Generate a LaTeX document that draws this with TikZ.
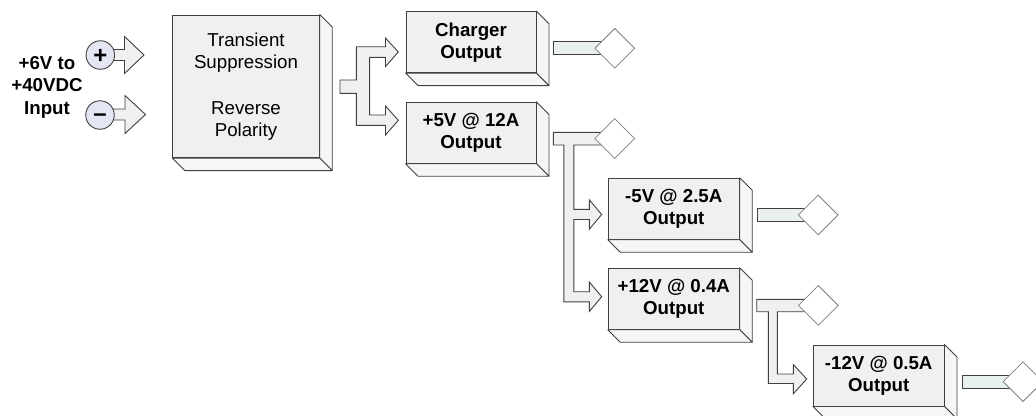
\documentclass[tikz,border=0pt]{standalone}
\usepackage{fontspec}
\setmainfont{Liberation Sans}
\usetikzlibrary{calc,shapes.geometric}
\definecolor{facec}{HTML}{F0F0F0}
\definecolor{sidec}{HTML}{F6F6F6}
\definecolor{edgec}{HTML}{404040}
\definecolor{connc}{HTML}{E9F0F0}
\definecolor{diac}{HTML}{808080}
\definecolor{circc}{HTML}{E4E6F4}
\tikzset{
 boxface/.style={draw=edgec, fill=facec, line width=0.9pt, inner sep=0pt, align=center, font=\fontsize{18.7}{22}\selectfont},
 sideface/.style={draw=edgec, fill=sidec, line width=0.9pt, line join=round},
 forkarrow/.style={draw=edgec, fill=facec, line width=0.9pt, line join=miter},
 outbar/.style={draw=edgec, fill=connc, line width=0.9pt},
 outdia/.style={draw=diac, fill=white, shape=diamond, minimum width=40pt, minimum height=40pt, inner sep=0pt, line width=0.8pt},
 pole/.style={circle, draw=edgec, fill=circc, minimum size=28.5pt, inner sep=0pt, line width=0.9pt},
 polesign/.style={anchor=base, inner sep=0pt, font=\bfseries\fontsize{24}{24}\selectfont},
 intext/.style={align=center, inner sep=0pt, font=\bfseries\fontsize{18.7}{22.5}\selectfont},
}
\newcommand\solidsides[1]{%
 \draw[sideface] (#1.north east) -- ++(12.5,12.5) -- ($(#1.south east)+(12.5,12.5)$) -- (#1.south east) -- cycle;
 \draw[sideface] (#1.south west) -- ++(12.5,12.5) -- ($(#1.south east)+(12.5,12.5)$) -- (#1.south east) -- cycle;
}
\begin{document}
\begin{tikzpicture}[x=1pt,y=-1pt]
\useasboundingbox (0,0) rectangle (1036,415);
\fill[white] (0,0) rectangle (1036,415);

% input
\node[intext] (inlabel) at (47,87) {+6V to\\+40VDC\\Input};
\draw[forkarrow] (105,49.5) -- (124.5,49.5) -- (124.5,36.5) -- (144,55) -- (124.5,73.5) -- (124.5,60.5) -- (105,60.5) -- cycle;
\draw[forkarrow] (105,109) -- (125,109) -- (125,95.5) -- (145.5,114.5) -- (125,133.5) -- (125,120) -- (105,120) -- cycle;
\node[pole] (pluscirc) at (100.3,55) {};
\node[pole] (minuscirc) at (100,115) {};
\node[polesign] (plussign) at ($(pluscirc.center)+(0,8.4)$) {+};
\node[polesign] (minussign) at ($(minuscirc.center)+(0,6.8)$) {\symbol{"2013}};

% main box
\node[boxface, minimum width=146.6pt, minimum height=142.7pt] (main) at (246,86.3)
 {Transient\\Suppression\\[24pt]Reverse\\Polarity};
\solidsides{main}

% output boxes
\node[boxface, font=\bfseries\fontsize{18.7}{22}\selectfont, minimum width=130pt, minimum height=61pt] (charger) at (471,42.2) {Charger\\Output};
\solidsides{charger}
\node[boxface, font=\bfseries\fontsize{18.7}{22}\selectfont, minimum width=130pt, minimum height=61pt] (five) at (471,132.8) {+5V @ 12A\\Output};
\solidsides{five}
\node[boxface, font=\bfseries\fontsize{18.7}{22}\selectfont, minimum width=131pt, minimum height=61pt] (mfive) at (673.8,208.8) {-5V @ 2.5A\\Output};
\solidsides{mfive}
\node[boxface, font=\bfseries\fontsize{18.7}{22}\selectfont, minimum width=131pt, minimum height=61pt] (ptwelve) at (673.8,298.8) {+12V @ 0.4A\\Output};
\solidsides{ptwelve}
\node[boxface, font=\bfseries\fontsize{18.7}{22}\selectfont, minimum width=130.7pt, minimum height=61pt] (mtwelve) at (878.7,375.5) {-12V @ 0.5A\\Output};
\solidsides{mtwelve}

% fork arrows
\draw[forkarrow] (340,80) -- (356.3,80) -- (356.3,46.7) -- (385.5,46.7) -- (385.5,38) -- (398.3,52) -- (385.5,66.5) -- (385.5,57.3) -- (369.6,57.3) -- (369.6,115) -- (385.5,115) -- (385.5,106) -- (398.3,120.3) -- (385.5,135) -- (385.5,125.3) -- (356.3,125.3) -- (356.3,93.3) -- (340,93.3) -- cycle;
\draw[forkarrow] (553.3,132.3) -- (605,132.3) -- (605,145) -- (573.8,145) -- (573.8,209.3) -- (589.3,209.3) -- (589.3,199.8) -- (601.7,214.5) -- (589.3,229.3) -- (589.3,219.5) -- (573.8,219.5) -- (573.8,291.7) -- (589.3,291.7) -- (589.3,282) -- (601.7,296.7) -- (589.3,311.5) -- (589.3,301.8) -- (563.8,301.8) -- (563.8,145) -- (553.3,145) -- cycle;
\draw[forkarrow] (756.7,299.3) -- (810,299.3) -- (810,311.7) -- (777.3,311.7) -- (777.3,374) -- (793.3,374) -- (793.3,364.5) -- (806.7,379) -- (793.3,393.8) -- (793.3,383.5) -- (768.3,383.5) -- (768.3,311.7) -- (756.7,311.7) -- cycle;

% output bars and diamonds
\draw[outbar] ($(charger.east)+(17.3,-0.5)$) rectangle ($(charger.east)+(70,11.8)$);
\draw[outbar] ($(mfive.east)+(17.4,-0.5)$) rectangle ($(mfive.east)+(70,12.8)$);
\draw[outbar] ($(mtwelve.east)+(17.7,-0.5)$) rectangle ($(mtwelve.east)+(70,12.8)$);
\node[outdia] (dcharger) at ($(charger.east)+(78.3,6.1)$) {};
\node[outdia] (dfive) at ($(five.east)+(78.3,5.7)$) {};
\node[outdia] (dmfive) at ($(mfive.east)+(78.4,6.2)$) {};
\node[outdia] (dptwelve) at ($(ptwelve.east)+(78.6,6.6)$) {};
\node[outdia] (dmtwelve) at ($(mtwelve.east)+(78.5,6.2)$) {};
\end{tikzpicture}
\end{document}
